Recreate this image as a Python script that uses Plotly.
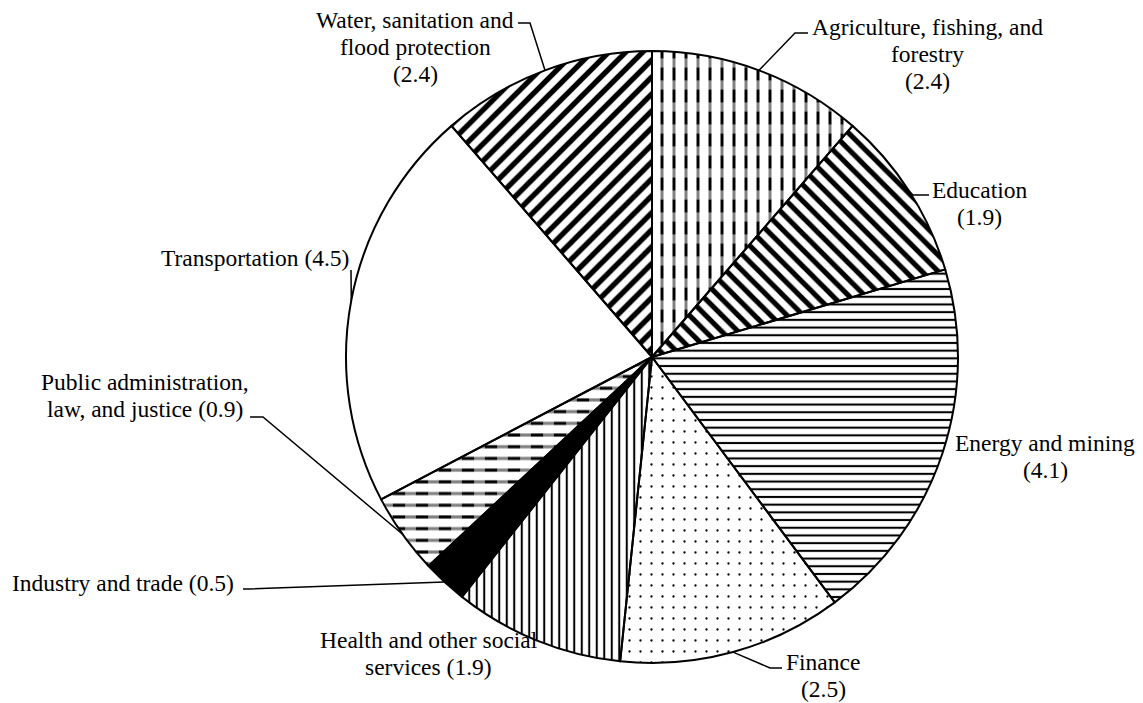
import math
import plotly.graph_objects as go

# ---------------- data ----------------
categories = [
    "Agriculture, fishing, and forestry",
    "Education",
    "Energy and mining",
    "Finance",
    "Health and other social services",
    "Industry and trade",
    "Public administration, law, and justice",
    "Transportation",
    "Water, sanitation and flood protection",
]
values = [2.4, 1.9, 4.1, 2.5, 1.9, 0.5, 0.9, 4.5, 2.4]

# label text lines ({v} is replaced by the slice value)
label_lines = [
    ["Agriculture, fishing, and", "forestry", "({v})"],
    ["Education", "({v})"],
    ["Energy and mining", "({v})"],
    ["Finance", "({v})"],
    ["Health and other social", "services ({v})"],
    ["Industry and trade ({v})"],
    ["Public administration,", "law, and justice ({v})"],
    ["Transportation ({v})"],
    ["Water, sanitation and", "flood protection", "({v})"],
]

# ---------------- styles / layout ----------------
WIN_W, WIN_H = 1143, 703
OFF = 8                              # default page body margin
W, H = WIN_W - OFF, WIN_H - OFF      # figure size so it fits the window
CX, CY, R = 652, 357, 306            # pie centre and radius in window pixels
FONT = "Liberation Serif, Times New Roman, serif"
FS = 23.5
LINE_H = 27
CLEAR = "rgba(0,0,0,0)"

# base hatching
pat_shapes = ["|", "\\", "-", ".", "|", "", "-", "", "/"]
pat_sizes = [12, 11.5, 7.7, 11, 7.5, 8, 11.7, 8, 12]
pat_solid = [0.25, 0.45, 0.27, 0.035, 0.27, 0.3, 0.27, 0.3, 0.45]
slice_colors = ["white", "white", "white", "white", "white", "black", "white", "white", "white"]

# white cuts that turn solid hatching into dashes
cut_shapes = ["-", "", "", "", "", "", "|", "", ""]
cut_sizes = [22, 8, 8, 8, 8, 8, 23, 8, 8]
cut_solid = [0.42, 0.3, 0.3, 0.3, 0.3, 0.3, 0.47, 0.3, 0.3]

# label placement: centre x, first-line y (window pixels), leader points from text toward the pie
label_pos = [
    (927, 27, [(808, 33), (795, 33)]),
    (980, 190, [(929, 195), (913, 195)]),
    (1045, 443, None),
    (823, 662, [(782, 668), (770, 668)]),
    (429, 640, None),
    (123, 583, [(243, 589), (250, 589)]),
    (145, 382, [(250, 417), (263, 417)]),
    (255, 258, [(351, 270)]),
    (415, 20, [(518, 23), (530, 23)]),
]


def px(x):
    return (x - OFF) / W


def py(y):
    return 1 - (y - OFF) / H


domain = dict(x=[px(CX - R), px(CX + R)], y=[py(CY + R), py(CY - R)])
common = dict(labels=categories, values=values, sort=False, direction="clockwise",
              rotation=0, textinfo="none", showlegend=False, domain=domain)

fig = go.Figure()
# 1) filled, hatched slices
fig.add_trace(go.Pie(
    **common,
    hoverinfo="label+value",
    marker=dict(
        colors=slice_colors,
        line=dict(color="black", width=0),
        pattern=dict(shape=pat_shapes, size=pat_sizes, solidity=pat_solid,
                     fgcolor="black", bgcolor=slice_colors, fillmode="replace"),
    ),
))
# 2) white cuts for dashed hatching
fig.add_trace(go.Pie(
    **common,
    hoverinfo="skip",
    marker=dict(
        colors=[CLEAR] * len(values),
        line=dict(color=CLEAR, width=0),
        pattern=dict(shape=cut_shapes, size=cut_sizes, solidity=cut_solid,
                     fgcolor="white", bgcolor=CLEAR, fillmode="overlay"),
    ),
))
# 3) slice outlines on top
fig.add_trace(go.Pie(
    **common,
    hoverinfo="skip",
    marker=dict(colors=[CLEAR] * len(values), line=dict(color="black", width=2)),
))

# leader-line end points from slice mid-angles
total = sum(values)
cum = 0.0
annotations = []
shapes = []
for i, v in enumerate(values):
    mid = (cum + v / 2) / total * 2 * math.pi
    cum += v
    ex = CX + R * math.sin(mid)
    ey = CY - R * math.cos(mid)
    cx_lab, y0, leader = label_pos[i]
    for k, line in enumerate(label_lines[i]):
        annotations.append(dict(
            x=px(cx_lab), y=py(y0 + k * LINE_H), xref="paper", yref="paper",
            text=line.format(v=v), showarrow=False,
            xanchor="center", yanchor="middle",
            font=dict(family=FONT, size=FS, color="black"),
        ))
    if leader:
        pts = leader + [(ex, ey)]
        path = "M " + " L ".join(f"{px(a):.5f},{py(b):.5f}" for a, b in pts)
        shapes.append(dict(type="path", path=path, xref="paper", yref="paper",
                           line=dict(color="black", width=1.5)))

fig.update_layout(
    width=W, height=H,
    margin=dict(l=0, r=0, t=0, b=0),
    paper_bgcolor="white",
    plot_bgcolor="white",
    annotations=annotations,
    shapes=shapes,
    font=dict(family=FONT, size=FS, color="black"),
)

fig.write_html("out.html")
